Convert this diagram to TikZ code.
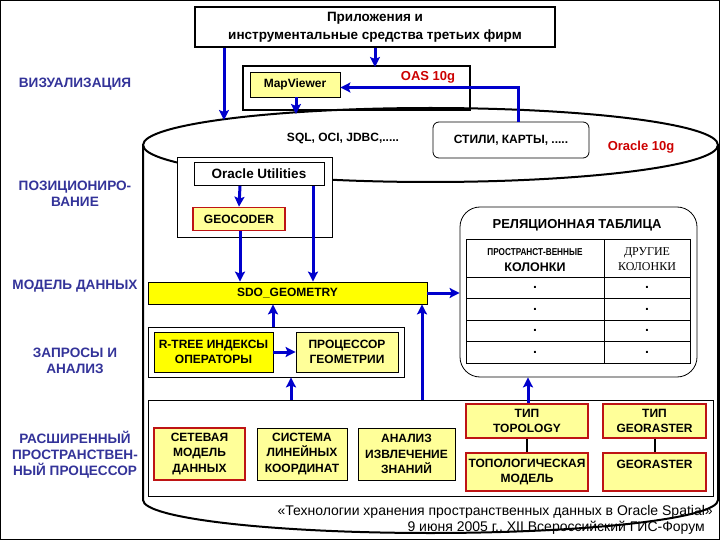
\documentclass[tikz,border=0pt]{standalone}
\usepackage{fontspec}
\setmainfont{Liberation Sans}
\newfontfamily\serifrm{Liberation Serif}
\usetikzlibrary{arrows.meta}
\definecolor{arrblue}{RGB}{0,0,204}
\definecolor{lblblue}{RGB}{51,51,153}
\definecolor{lyellow}{RGB}{255,255,153}
\definecolor{syellow}{RGB}{255,255,0}
\definecolor{dred}{RGB}{190,20,20}
\definecolor{orared}{RGB}{204,0,0}
\tikzset{
  lbl/.style={text=lblblue, font=\fontsize{13.6}{16}\selectfont\bfseries, align=center, inner sep=0pt},
  bx/.style={draw, line width=0.8pt, inner sep=1pt, align=center, font=\fontsize{12}{15.5}\selectfont\bfseries},
  redbx/.style={bx, draw=dred, line width=1.6pt, fill=lyellow},
  thickbx/.style={draw, line width=2pt, inner sep=0pt},
  arr/.style={draw=arrblue, line width=3pt, -{Stealth[length=10pt,width=10pt,inset=2pt]}},
  txt/.style={inner sep=0pt, font=\fontsize{12}{15}\selectfont\bfseries},
  redtxt/.style={inner sep=0pt, text=orared, font=\fontsize{13}{15}\selectfont\bfseries},
  foot/.style={inner sep=0pt, anchor=east, font=\fontsize{14}{16}\selectfont},
  dotcell/.style={inner sep=0pt, font=\fontsize{14}{14}\selectfont\bfseries},
}
\begin{document}
\begin{tikzpicture}[x=1pt,y=-1pt]
\useasboundingbox (0,0) rectangle (720,540);
\draw[line width=1pt] (0.5,0.5) rectangle (719.5,539.5);

% cylinder
\draw[line width=2pt] (143,145) -- (143,500) arc[start angle=180,end angle=0,x radius=287.5,y radius=33] -- (718,145);
\draw[line width=2pt] (430.5,145) ellipse [x radius=287.5, y radius=37];

% top box
\node[thickbx, minimum width=360, minimum height=40, align=center, font=\fontsize{13.5}{18}\selectfont\bfseries] (top) at (375,27) {Приложения и\\инструментальные средства третьих фирм};

% OAS
\node[thickbx, minimum width=227, minimum height=44] (oas) at (356.5,88) {};
\node[redtxt] (oaslbl) at (428,77) {OAS 10g};
\node[bx, fill=lyellow, minimum width=90, minimum height=25] (mv) at (295,84.5) {MapViewer};

% left labels
\node[lbl] (l1) at (75,84) {ВИЗУАЛИЗАЦИЯ};
\node[lbl] (l2) at (75,194) {ПОЗИЦИОНИРО-\\ВАНИЕ};
\node[lbl] (l3) at (75,286) {МОДЕЛЬ ДАННЫХ};
\node[lbl] (l4) at (75,361) {ЗАПРОСЫ И\\АНАЛИЗ};
\node[lbl] (l5) at (75,455) {РАСШИРЕННЫЙ\\ПРОСТРАНСТВЕН-\\НЫЙ ПРОЦЕССОР};

% cylinder top contents
\node[txt] (sql) at (343,138) {SQL, OCI, JDBC,.....};
\node[bx, rounded corners=6pt, minimum width=156, minimum height=36] (st) at (511,140) {СТИЛИ, КАРТЫ, .....};
\node[redtxt] (ora) at (641,147) {Oracle 10g};

% utilities
\node[draw, fill=white, line width=0.8pt, minimum width=155, minimum height=80] (ub) at (254.5,197) {};
\node[bx, minimum width=130, minimum height=23, font=\fontsize{13.5}{15}\selectfont\bfseries] (ut) at (259,174) {Oracle Utilities};
\node[redbx, minimum width=92, minimum height=23] (geo) at (239,219) {GEOCODER};

% sdo
\node[bx, fill=syellow, minimum width=279, minimum height=22] (sdo) at (287.5,293) {SDO\_GEOMETRY};

% queries
\node[draw, line width=0.8pt, minimum width=256, minimum height=50] (qb) at (276,352) {};
\node[bx, fill=syellow, minimum width=119, minimum height=40] (rt) at (213.5,352) {R-TREE ИНДЕКСЫ\\ОПЕРАТОРЫ};
\node[bx, fill=lyellow, minimum width=102, minimum height=40] (pr) at (347,352) {ПРОЦЕССОР\\ГЕОМЕТРИИ};

% relational table
\node[draw, line width=0.8pt, rounded corners=20pt, minimum width=237, minimum height=170] (tb) at (578.5,292) {};
\node[inner sep=0pt, font=\fontsize{13}{15}\selectfont\bfseries] (tbt) at (577,225) {РЕЛЯЦИОННАЯ ТАБЛИЦА};
\draw[line width=0.8pt] (466,239) rectangle (690,363);
\draw[line width=0.8pt] (604,239) -- (604,363);
\foreach \yy in {277,298.5,320,341.5} \draw[line width=0.8pt] (466,\yy) -- (690,\yy);
\node[inner sep=0pt, font=\fontsize{10}{11}\selectfont\bfseries] (h1a) at (535,252) {\scalebox{0.82}[1]{ПРОСТРАНСТ-ВЕННЫЕ}};
\node[inner sep=0pt, font=\fontsize{12.5}{14}\selectfont\bfseries] (h1b) at (535,267) {КОЛОНКИ};
\node[inner sep=0pt, align=center, font=\fontsize{12}{15}\serifrm] (h2) at (647,259) {ДРУГИЕ\\КОЛОНКИ};
\foreach \yy [count=\i] in {287.75,309.25,330.75,352.25} {
  \node[dotcell] (da\i) at (535,\yy) {.};
  \node[dotcell] (db\i) at (647,\yy) {.};
}

% bottom box
\node[draw, line width=0.8pt, minimum width=565, minimum height=96] (bb) at (430.5,448) {};
\node[redbx, minimum width=91, minimum height=52] (net) at (199.5,454) {СЕТЕВАЯ\\МОДЕЛЬ\\ДАННЫХ};
\node[bx, fill=lyellow, minimum width=90, minimum height=52] (lrs) at (302,454) {СИСТЕМА\\ЛИНЕЙНЫХ\\КООРДИНАТ};
\node[bx, fill=lyellow, minimum width=97, minimum height=52] (dm) at (406.5,454) {АНАЛИЗ\\ИЗВЛЕЧЕНИЕ\\ЗНАНИЙ};
\node[redbx, minimum width=122, minimum height=34] (tt) at (527,421) {ТИП\\TOPOLOGY};
\node[redbx, minimum width=122, minimum height=38] (tm) at (527,472) {ТОПОЛОГИЧЕСКАЯ\\МОДЕЛЬ};
\node[redbx, minimum width=103, minimum height=34] (tg) at (654.5,421) {ТИП\\GEORASTER};
\node[redbx, minimum width=103, minimum height=38] (gr) at (654.5,472) {GEORASTER\\\mbox{}};
\draw[line width=2pt] (tt.south) -- (tm.north);
\draw[line width=2pt] (tg.south) -- (gr.north);

% footer
\node[foot] (f1) at (713,512) {«Технологии хранения пространственных данных в Oracle Spatial»};
\node[foot] (f2) at (705,528) {9 июня 2005 г., XII Всероссийский ГИС-Форум};

% connectors
\coordinate (c1) at (224,120);
\coordinate (c2) at (296,114);
\draw[arr] (top.south -| c1) -- (c1);
\draw[arr] (top.south -| oas.north) ++(18.5,0) -- ++(0,19);
\draw[arr] (mv.south -| c2) -- (c2);
\draw[arr] (st.north -| 518,0) |- ([yshift=-3pt]mv.east);
\draw[arr] (ut.south -| 240,0) -- (geo.north);
\draw[arr] (geo.south -| 240,0) -- (sdo.north -| 240,0);
\draw[arr] (ut.south -| 313,0) -- (sdo.north -| 313,0);
\draw[arr] (sdo.east) -- (tb.west |- sdo.east);
\draw[arr] (qb.north -| 273,0) -- (sdo.south -| 273,0);
\draw[arr] (rt.east) -- (pr.west);
\draw[arr] (bb.north -| 291,0) -- (qb.south -| 291,0);
\draw[arr] (bb.north -| 422,0) -- (sdo.south -| 422,0);
\draw[arr] (tt.north -| 528,0) -- (tb.south -| 528,0);
\end{tikzpicture}
\end{document}
